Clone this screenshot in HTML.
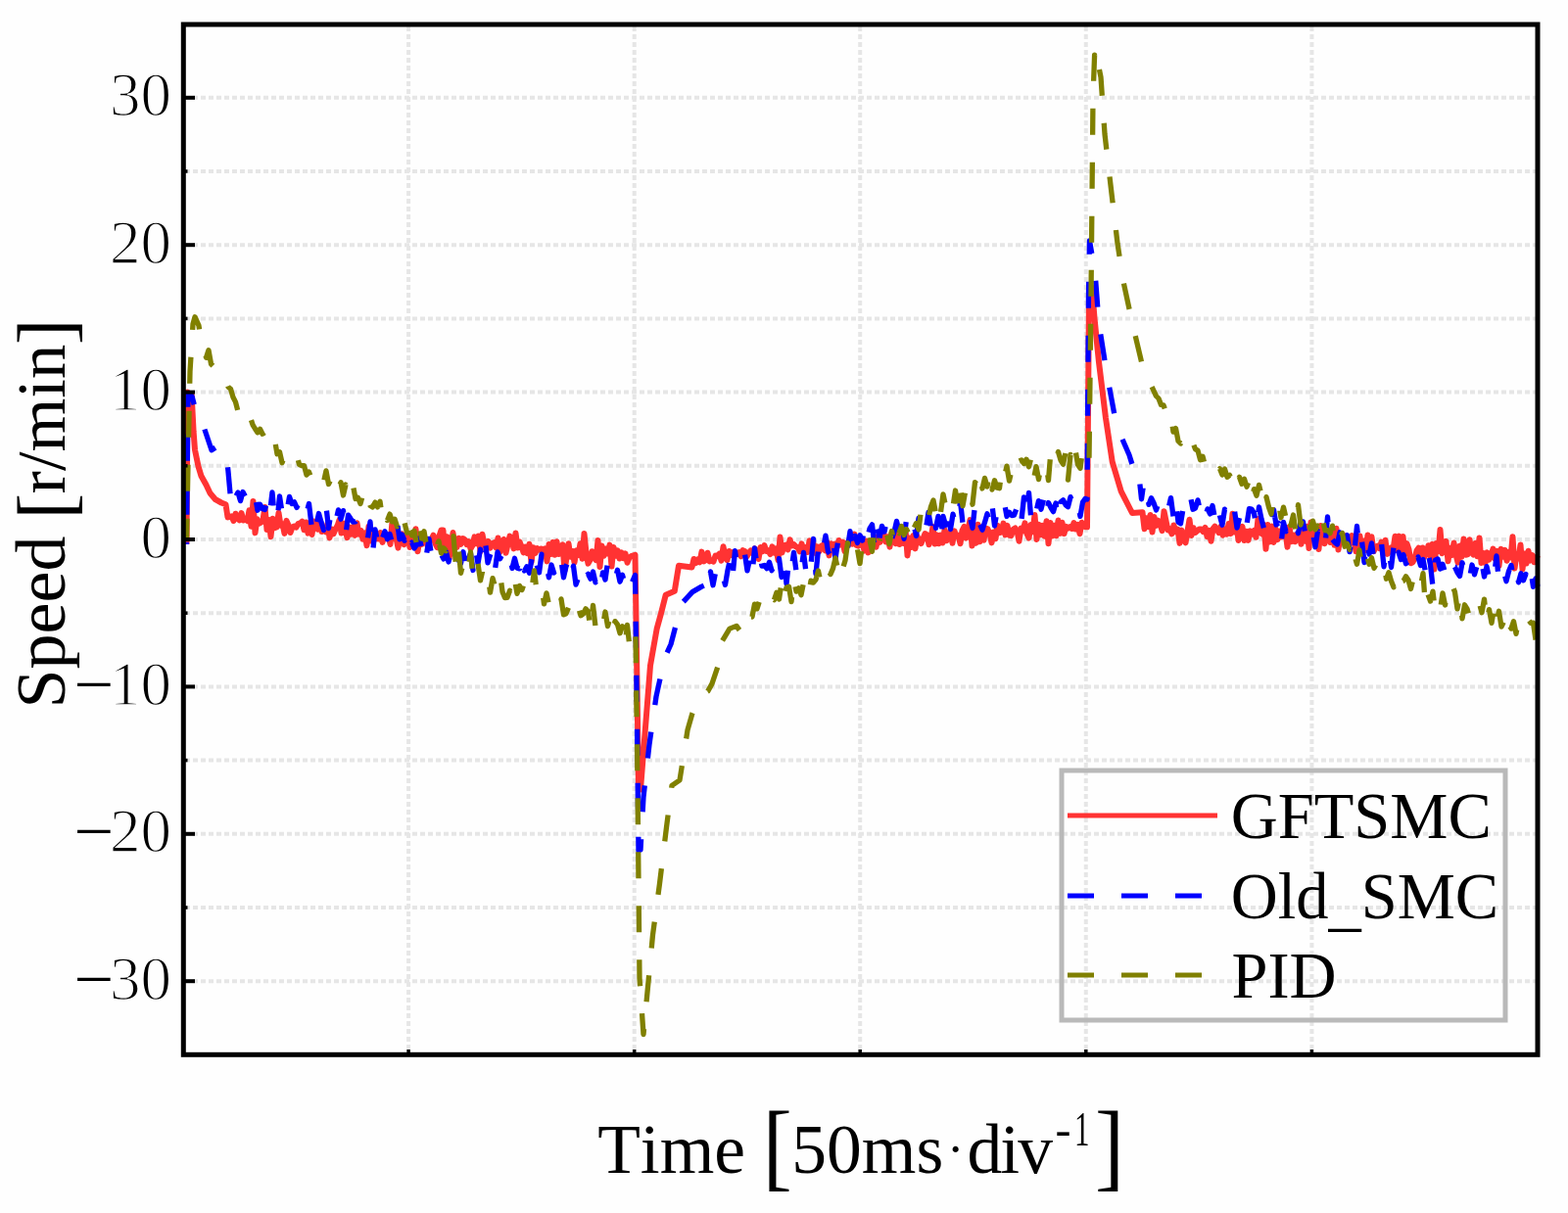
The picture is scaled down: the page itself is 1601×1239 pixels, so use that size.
<!DOCTYPE html>
<html><head><meta charset="utf-8"><title>Speed chart</title>
<style>html,body{margin:0;padding:0;background:#fefefe;}svg{display:block;filter:blur(0.7px);} text{font-kerning:none;font-feature-settings:"kern" 0;}</style>
</head><body>
<svg width="1601" height="1239" viewBox="0 0 1601 1239">
<rect x="0" y="0" width="1601" height="1239" fill="#fefefe"/>
<g stroke="#e6e6e6" stroke-width="4" stroke-dasharray="5 3" fill="none">
<line x1="189" y1="1002.2" x2="1568" y2="1002.2"/><line x1="189" y1="927.0" x2="1568" y2="927.0"/><line x1="189" y1="851.8" x2="1568" y2="851.8"/><line x1="189" y1="776.6" x2="1568" y2="776.6"/><line x1="189" y1="701.4" x2="1568" y2="701.4"/><line x1="189" y1="626.2" x2="1568" y2="626.2"/><line x1="189" y1="551.0" x2="1568" y2="551.0"/><line x1="189" y1="475.8" x2="1568" y2="475.8"/><line x1="189" y1="400.6" x2="1568" y2="400.6"/><line x1="189" y1="325.4" x2="1568" y2="325.4"/><line x1="189" y1="250.2" x2="1568" y2="250.2"/><line x1="189" y1="175.0" x2="1568" y2="175.0"/><line x1="189" y1="99.8" x2="1568" y2="99.8"/><line x1="417.1" y1="27" x2="417.1" y2="1075"/><line x1="647.7" y1="27" x2="647.7" y2="1075"/><line x1="878.2" y1="27" x2="878.2" y2="1075"/><line x1="1108.8" y1="27" x2="1108.8" y2="1075"/><line x1="1339.4" y1="27" x2="1339.4" y2="1075"/>
</g>
<g fill="none" stroke-linejoin="round" stroke-width="5.3">
<polyline stroke="#ff3333" stroke-width="6" points="190.5,555.8 191.5,400.5 195.7,403.8 197.6,440.8 199.0,459.5 202.5,476.3 205.5,486.3 210.5,495.3 214.5,503.8 220.0,510.2 226.0,513.5 230.5,515.2 232.5,528.4 236.5,527.3 238.5,532.0 240.5,524.7 242.5,529.4 244.5,531.4 246.5,524.1 248.5,531.5 250.5,529.9 252.5,532.1 254.5,521.3 256.5,537.7 258.5,511.9 260.5,544.3 262.5,530.2 264.5,534.7 266.5,533.6 268.5,531.0 270.5,518.0 272.5,541.0 274.5,530.9 276.5,548.2 278.5,529.7 280.5,539.2 282.5,538.5 284.5,523.8 286.5,536.8 288.5,535.2 290.5,544.9 292.5,531.9 294.5,536.5 296.5,544.0 298.5,538.4 300.5,537.4 302.5,538.5 304.5,534.9 306.5,534.5 308.5,532.6 310.5,541.3 312.5,533.5 314.5,544.6 316.5,536.1 318.5,546.0 320.5,532.5 322.5,533.8 324.5,540.6 326.5,531.9 328.5,543.0 330.5,540.7 332.5,543.2 334.5,534.6 336.5,549.4 338.5,540.5 340.5,545.3 342.5,540.6 344.5,537.1 346.5,531.1 348.5,544.6 350.5,534.5 352.5,541.2 354.5,549.2 356.5,538.5 358.5,545.8 360.5,538.0 362.5,546.9 364.5,534.3 366.5,545.7 368.5,542.0 370.5,550.8 372.5,544.3 374.5,557.3 376.5,537.7 378.5,552.5 380.5,541.8 382.5,551.3 384.5,547.0 386.5,550.4 388.5,544.2 390.5,553.9 392.5,546.2 394.5,548.9 396.5,546.6 398.5,556.0 400.5,533.1 402.5,550.1 404.5,549.6 406.5,559.6 408.5,547.5 410.5,545.5 412.5,556.2 414.5,549.4 416.5,545.7 418.5,559.0 420.5,547.9 422.5,556.8 424.5,540.2 426.5,563.2 428.5,550.2 430.5,555.9 432.5,550.2 434.5,550.0 436.5,557.4 438.5,551.3 440.5,551.5 442.5,546.7 444.5,555.1 446.5,559.2 448.5,547.4 450.5,541.5 452.5,541.6 454.5,569.6 456.5,548.2 458.5,570.4 460.5,559.7 462.5,544.1 464.5,557.0 466.5,558.9 468.5,549.7 470.5,555.9 472.5,550.0 474.5,551.1 476.5,556.1 478.5,553.1 480.5,560.5 482.5,557.0 484.5,548.4 486.5,555.3 488.5,547.6 490.5,563.3 492.5,545.7 494.5,556.5 496.5,556.7 498.5,553.0 500.5,559.7 502.5,555.4 504.5,554.2 506.5,559.4 508.5,549.5 510.5,563.7 512.5,553.9 514.5,550.9 516.5,564.8 518.5,556.0 520.5,547.6 522.5,550.9 524.5,560.4 526.5,544.4 528.5,559.5 530.5,553.4 532.5,558.2 534.5,564.4 536.5,558.5 538.5,565.2 540.5,555.7 542.5,574.3 544.5,559.2 546.5,565.0 548.5,560.1 550.5,561.6 552.5,560.5 554.5,561.6 556.5,560.3 558.5,573.4 560.5,556.0 562.5,566.0 564.5,553.9 566.5,566.7 568.5,553.2 570.5,566.0 572.5,561.6 574.5,556.3 576.5,583.1 578.5,569.2 580.5,555.2 582.5,568.8 584.5,562.8 586.5,574.4 588.5,562.4 590.5,566.9 592.5,555.2 594.5,570.7 596.5,545.1 598.5,564.4 600.5,575.6 602.5,572.1 604.5,563.3 606.5,568.4 608.5,572.1 610.5,552.0 612.5,579.0 614.5,557.6 616.5,567.7 618.5,560.5 620.5,565.5 622.5,556.6 624.5,578.6 626.5,558.9 628.5,567.8 630.5,562.4 632.5,570.5 634.5,564.4 636.5,570.2 638.5,565.4 640.5,574.7 642.5,569.7 644.5,568.2 648.5,566.8 650.5,700.0 652.0,805.8 654.0,806.5 664.0,679.8 670.7,642.1 675.0,626.4 679.7,607.7 688.8,603.8 693.0,577.7 706.5,579.4 708.5,571.0 710.5,575.1 712.5,571.4 714.5,574.3 716.5,563.6 718.5,573.4 720.5,572.2 722.5,564.7 724.5,573.4 726.5,572.4 728.5,573.5 730.5,567.6 732.5,568.0 734.5,565.7 736.5,572.7 738.5,558.3 740.5,568.3 742.5,572.2 744.5,563.0 746.5,567.1 748.5,564.1 750.5,566.8 752.5,565.1 754.5,564.2 756.5,568.3 758.5,562.2 760.5,563.0 762.5,568.4 764.5,564.9 766.5,562.5 768.5,565.1 770.5,560.3 772.5,566.4 774.5,570.9 776.5,559.0 778.5,563.3 780.5,557.2 782.5,562.9 784.5,562.3 786.5,566.1 788.5,558.3 790.5,564.6 792.5,560.5 794.5,572.1 796.5,548.6 798.5,564.5 800.5,557.4 802.5,556.5 804.5,561.5 806.5,551.2 808.5,557.5 810.5,556.1 812.5,558.3 814.5,559.1 816.5,563.3 818.5,555.4 820.5,562.8 822.5,559.2 824.5,564.0 826.5,552.3 828.5,561.2 830.5,554.7 832.5,565.0 834.5,558.3 836.5,563.2 838.5,557.7 840.5,556.7 842.5,562.3 844.5,553.9 846.5,567.4 848.5,555.3 850.5,560.1 852.5,555.6 854.5,558.9 856.5,552.0 858.5,556.4 860.5,553.7 862.5,563.1 864.5,554.8 866.5,556.3 868.5,548.9 870.5,555.6 872.5,545.6 874.5,556.9 876.5,557.6 878.5,550.9 880.5,553.7 882.5,562.6 884.5,552.5 886.5,564.4 888.5,562.4 890.5,553.1 892.5,548.0 894.5,558.8 896.5,549.7 898.5,553.9 900.5,544.9 902.5,545.8 904.5,553.4 906.5,548.4 908.5,558.6 910.5,544.0 912.5,551.8 914.5,555.1 916.5,542.4 918.5,556.1 920.5,551.4 922.5,554.9 924.5,540.3 926.5,567.4 928.5,549.5 930.5,559.0 932.5,547.1 934.5,560.4 936.5,547.6 938.5,552.5 940.5,555.2 942.5,550.2 944.5,545.0 946.5,546.5 948.5,556.3 950.5,550.0 952.5,538.0 954.5,555.5 956.5,546.4 958.5,555.3 960.5,546.6 962.5,554.5 964.5,541.1 966.5,552.3 968.5,544.7 970.5,543.2 972.5,554.8 974.5,542.4 976.5,547.7 978.5,546.9 980.5,555.3 982.5,541.8 984.5,538.0 986.5,549.6 988.5,540.9 990.5,531.1 992.5,557.5 994.5,541.8 996.5,554.7 998.5,535.7 1000.5,553.3 1002.5,541.1 1004.5,551.7 1006.5,539.7 1008.5,540.4 1010.5,544.8 1012.5,554.4 1014.5,543.5 1016.5,550.3 1018.5,536.8 1020.5,544.2 1022.5,543.4 1024.5,534.6 1026.5,546.4 1028.5,536.9 1030.5,546.7 1032.5,547.1 1034.5,540.8 1036.5,539.5 1038.5,542.5 1040.5,552.8 1042.5,539.4 1044.5,542.2 1046.5,534.3 1048.5,545.3 1050.5,549.6 1052.5,536.1 1054.5,543.2 1056.5,525.9 1058.5,550.9 1060.5,535.7 1062.5,546.2 1064.5,536.9 1066.5,547.7 1068.5,532.3 1070.5,555.3 1072.5,533.9 1074.5,547.5 1076.5,536.8 1078.5,547.3 1080.5,531.6 1082.5,544.9 1084.5,533.8 1086.5,545.1 1088.5,537.8 1090.5,539.6 1092.5,538.1 1094.5,539.9 1096.5,534.1 1098.5,540.5 1100.5,535.8 1102.5,545.2 1104.5,533.8 1108.0,538.2 1110.0,538.3 1112.0,300.9 1115.0,293.7 1117.6,326.0 1122.0,369.9 1129.0,427.1 1135.7,471.6 1144.7,501.9 1156.0,524.0 1166.5,523.2 1168.5,540.2 1170.5,529.2 1172.5,538.1 1174.5,526.0 1176.5,543.5 1178.5,528.1 1180.5,536.9 1182.5,531.7 1184.5,534.6 1186.5,542.1 1188.5,522.2 1190.5,531.9 1192.5,541.5 1194.5,540.4 1196.5,545.3 1198.5,536.5 1200.5,543.3 1202.5,540.6 1204.5,554.9 1206.5,541.6 1208.5,551.5 1210.5,554.4 1212.5,542.6 1214.5,530.7 1216.5,547.0 1218.5,539.1 1220.5,543.9 1222.5,542.2 1224.5,540.4 1226.5,540.6 1228.5,543.0 1230.5,539.0 1232.5,548.2 1234.5,541.9 1236.5,552.7 1238.5,540.2 1240.5,537.6 1242.5,540.9 1244.5,544.0 1246.5,537.9 1248.5,546.7 1250.5,540.3 1252.5,545.6 1254.5,535.1 1256.5,545.1 1258.5,524.7 1260.5,543.4 1262.5,535.9 1264.5,552.0 1266.5,544.2 1268.5,537.8 1270.5,552.0 1272.5,542.8 1274.5,551.9 1276.5,542.4 1278.5,545.7 1280.5,542.0 1282.5,548.8 1284.5,530.1 1286.5,543.5 1288.5,545.5 1290.5,535.9 1292.5,560.8 1294.5,536.0 1296.5,553.4 1298.5,537.6 1300.5,553.9 1302.5,540.1 1304.5,551.1 1306.5,542.5 1308.5,548.5 1310.5,537.7 1312.5,542.7 1314.5,558.8 1316.5,538.2 1318.5,553.2 1320.5,546.4 1322.5,553.3 1324.5,546.1 1326.5,542.8 1328.5,555.7 1330.5,541.8 1332.5,552.7 1334.5,537.8 1336.5,560.0 1338.5,533.5 1340.5,544.4 1342.5,549.7 1344.5,540.5 1346.5,560.9 1348.5,536.9 1350.5,542.0 1352.5,555.3 1354.5,547.6 1356.5,547.6 1358.5,554.0 1360.5,543.7 1362.5,556.7 1364.5,539.8 1366.5,561.6 1368.5,546.5 1370.5,553.9 1372.5,547.1 1374.5,547.5 1376.5,549.3 1378.5,555.4 1380.5,547.1 1382.5,552.0 1384.5,563.2 1386.5,556.7 1388.5,547.5 1390.5,564.2 1392.5,552.6 1394.5,562.1 1396.5,546.5 1398.5,563.9 1400.5,548.3 1402.5,563.3 1404.5,559.6 1406.5,557.8 1408.5,560.1 1410.5,553.5 1412.5,565.2 1414.5,551.8 1416.5,565.9 1418.5,563.3 1420.5,559.3 1422.5,561.3 1424.5,547.8 1426.5,561.8 1428.5,547.6 1430.5,563.8 1432.5,547.9 1434.5,566.0 1436.5,555.1 1438.5,561.1 1440.5,575.2 1442.5,574.2 1444.5,570.3 1446.5,562.5 1448.5,559.6 1450.5,566.6 1452.5,559.5 1454.5,568.7 1456.5,564.0 1458.5,557.2 1460.5,568.2 1462.5,555.9 1464.5,581.5 1466.5,555.0 1468.5,563.2 1470.5,541.1 1472.5,565.2 1474.5,560.5 1476.5,552.9 1478.5,573.3 1480.5,559.8 1482.5,567.0 1484.5,554.5 1486.5,566.0 1488.5,574.6 1490.5,557.6 1492.5,568.7 1494.5,550.6 1496.5,566.7 1498.5,566.3 1500.5,551.2 1502.5,564.5 1504.5,566.6 1506.5,554.7 1508.5,568.3 1510.5,549.6 1512.5,574.9 1514.5,565.0 1516.5,575.0 1518.5,564.4 1520.5,571.6 1522.5,567.3 1524.5,560.6 1526.5,570.8 1528.5,562.8 1530.5,578.1 1532.5,560.8 1534.5,568.6 1536.5,561.9 1538.5,572.8 1540.5,563.7 1542.5,569.5 1544.5,548.3 1546.5,580.5 1548.5,566.3 1550.5,570.4 1552.5,556.4 1554.5,581.6 1556.5,565.5 1558.5,575.5 1560.5,562.7 1562.5,572.6 1564.5,567.0 1566.5,574.3 1568.5,570.8 1570.0,567.2"/>
<polyline stroke="#0000ff" stroke-dasharray="27 28" stroke-dashoffset="24.9" points="190.5,555.9 192.0,402.3 196.0,404.8 202.0,427.5 207.0,432.9 216.0,459.7 223.0,455.2 232.0,472.5 233.0,481.6 235.5,509.2 238.0,497.9 240.5,507.7 243.0,503.1 245.5,511.6 248.0,502.5 250.5,507.1 253.0,504.0 255.5,505.2 258.0,512.5 260.5,506.5 263.0,521.2 265.5,515.2 268.0,519.7 270.5,520.6 273.0,510.2 275.5,523.9 278.0,502.9 280.5,530.9 283.0,531.9 285.5,506.9 288.0,523.2 290.5,514.5 293.0,522.2 295.5,507.4 298.0,514.4 300.5,512.9 303.0,518.4 305.5,512.8 308.0,513.0 310.5,526.7 313.0,524.0 315.5,514.5 318.0,536.0 320.5,523.9 323.0,536.1 325.5,524.5 328.0,533.4 330.5,541.4 333.0,517.3 335.5,539.7 338.0,523.3 340.5,520.3 343.0,531.6 345.5,520.9 348.0,530.2 350.5,521.6 353.0,546.4 355.5,526.1 358.0,529.8 360.5,533.1 363.0,532.9 365.5,529.3 368.0,534.9 370.5,535.4 373.0,543.8 375.5,549.7 378.0,532.9 380.5,565.4 383.0,540.8 385.5,552.3 388.0,539.3 390.5,549.5 393.0,542.7 395.5,550.7 398.0,545.4 400.5,554.6 403.0,539.6 405.5,533.9 408.0,550.9 410.5,546.1 413.0,552.3 415.5,546.0 418.0,558.9"/>
<polyline stroke="#0000ff" stroke-dasharray="27 28" stroke-dashoffset="50.0" points="418.0,558.9 420.5,554.0 423.0,560.0 425.5,556.5 428.0,549.8 430.5,559.1 433.0,550.3 435.5,566.2 438.0,550.3 440.5,567.1 443.0,564.4 445.5,558.1 448.0,567.1 450.5,566.2 453.0,570.9 455.5,563.5 458.0,574.0 460.5,562.7 463.0,557.1 465.5,566.8 468.0,571.8 470.5,575.5 473.0,563.8 475.5,587.0 478.0,570.9 480.5,565.1 483.0,582.5 485.5,560.5 488.0,575.6 490.5,561.1 493.0,570.9 495.5,553.4 498.0,574.9 500.5,566.9 503.0,560.7 505.5,581.4 508.0,563.9 510.5,570.8 513.0,565.7 515.5,572.4 518.0,574.1 520.5,568.2 523.0,580.5 525.5,570.3 528.0,580.2 530.5,580.9 533.0,567.6 535.5,583.0 538.0,578.7 540.5,585.2 543.0,570.5 545.5,586.8 548.0,576.9 550.5,584.8 553.0,566.2 555.5,582.5 558.0,578.7 560.5,589.8 563.0,577.0 565.5,585.0 568.0,580.9 570.5,586.8 573.0,572.7 575.5,589.8 578.0,578.4 580.5,572.6 583.0,588.1 585.5,578.1 588.0,597.2 590.5,590.4 593.0,580.9 595.5,591.7 598.0,588.6 600.5,586.4 603.0,591.2 605.5,584.0 608.0,594.9 610.5,589.8 613.0,601.1 615.5,584.8 618.0,592.1 620.5,574.5 623.0,584.5 625.5,588.1 628.0,591.5 630.5,582.3 633.0,594.2 635.5,587.3 638.0,596.2 640.5,586.1 643.0,585.6 645.5,594.6 648.5,587.4 650.0,700.3 652.0,868.8 654.0,868.1 657.0,814.2 663.0,760.3 670.0,711.5 678.6,672.3 685.0,658.0 690.0,638.9 695.5,617.1 707.0,604.6 716.0,599.4 720.5,597.4 723.0,604.1 725.5,584.0 728.0,597.7 730.5,585.0 733.0,589.2 735.5,580.8 738.0,588.7 740.5,597.4 743.0,582.5 745.5,571.2 748.0,589.0 750.5,562.6 753.0,579.1 755.5,569.5 758.0,565.5 760.5,566.0 763.0,582.9 765.5,571.3 768.0,587.0 770.5,559.9 773.0,577.7 775.5,566.5 778.0,578.1 780.5,577.5 783.0,580.7 785.5,574.3 788.0,582.7 790.5,577.6 793.0,587.0 795.5,570.5 798.0,589.5 800.5,569.4 803.0,596.3 805.5,573.4 808.0,582.4 810.5,564.3 813.0,583.3 815.5,574.1 818.0,582.6 820.5,564.3 823.0,584.6 825.5,570.3 828.0,576.7 830.5,550.4 833.0,586.2 835.5,561.5 838.0,570.6 840.5,560.8 843.0,547.1 845.5,563.5 848.0,566.9 850.5,550.1 853.0,570.5 855.5,553.6 858.0,555.8 860.5,556.5 863.0,547.9 865.5,559.5 868.0,542.7 870.5,564.2 873.0,547.3 875.5,554.4 878.0,546.7 880.5,552.1 883.0,537.9 885.5,549.8 888.0,540.0 890.5,535.9 893.0,558.6 895.5,537.8 898.0,549.4"/>
<polyline stroke="#0000ff" stroke-dasharray="27 28" stroke-dashoffset="3.2" points="898.0,549.4 900.5,537.4 903.0,543.1 905.5,531.3 908.0,538.3 910.5,550.8 913.0,543.3 915.5,532.4 918.0,543.1 920.5,529.0 923.0,550.3 925.5,530.7 928.0,542.6 930.5,539.2 933.0,535.9 935.5,547.4 938.0,529.3 940.5,536.9 943.0,529.3 945.5,539.7 948.0,523.5 950.5,538.2 953.0,523.7 955.5,539.4 958.0,527.4 960.5,553.4 963.0,527.5 965.5,536.4 968.0,518.2 970.5,540.5 973.0,525.1 975.5,535.8 978.0,534.1 980.5,511.9 983.0,534.4 985.5,522.6 988.0,531.6 990.5,528.8 993.0,539.3 995.5,516.0 998.0,535.9 1000.5,535.6 1003.0,541.3 1005.5,533.4 1008.0,524.7 1010.5,534.2 1013.0,515.9 1015.5,537.0 1018.0,522.4 1020.5,526.2 1023.0,517.9 1025.5,513.9 1028.0,527.4 1030.5,523.2 1033.0,526.5 1035.5,526.2 1038.0,519.3 1040.5,512.6 1043.0,531.0 1045.5,507.9 1048.0,523.9 1050.5,503.3 1053.0,532.4 1055.5,518.4 1058.0,522.3 1060.5,511.6 1063.0,520.2 1065.5,510.2 1068.0,527.2 1070.5,513.5 1073.0,518.5 1075.5,522.6 1078.0,514.0 1080.5,530.4 1083.0,512.7 1085.5,510.7 1088.0,515.6 1090.5,517.7 1093.0,507.6 1095.5,514.4 1098.0,520.7 1100.5,514.4 1103.0,527.4 1105.5,513.1 1108.0,509.4 1110.0,510.0 1111.5,299.3 1112.5,246.0 1118.0,277.4 1122.0,330.3 1130.0,381.0 1140.0,434.8 1153.0,464.8 1160.5,488.9 1163.0,486.0 1165.5,509.8 1168.0,492.1 1170.5,496.4 1173.0,515.4 1175.5,508.7 1178.0,513.7 1180.5,520.9 1183.0,513.3 1185.5,510.5 1188.0,516.7 1190.5,513.3 1193.0,519.4 1195.5,508.7 1198.0,527.6 1200.5,511.1 1203.0,533.2 1205.5,534.8 1208.0,519.7 1210.5,519.0 1213.0,522.6 1215.5,507.2 1218.0,520.2 1220.5,519.1 1223.0,510.9 1225.5,521.3 1228.0,516.8 1230.5,528.4 1233.0,519.9 1235.5,524.9 1238.0,516.5 1240.5,529.5 1243.0,516.0 1245.5,526.9 1248.0,536.2 1250.5,520.2 1253.0,526.0 1255.5,526.9 1258.0,533.0 1260.5,521.4 1263.0,539.1 1265.5,529.1 1268.0,520.1 1270.5,523.5 1273.0,535.8 1275.5,519.6 1278.0,520.1 1280.5,524.1 1283.0,540.1 1285.5,518.0 1288.0,530.2 1290.5,539.8 1293.0,536.1 1295.5,533.4 1298.0,540.3 1300.5,520.6 1303.0,536.0 1305.5,534.2 1308.0,556.3 1310.5,533.5 1313.0,542.9 1315.5,535.4 1318.0,540.3 1320.5,538.1 1323.0,534.8 1325.5,544.7 1328.0,532.8 1330.5,532.9 1333.0,546.5 1335.5,544.3 1338.0,551.9 1340.5,544.2 1343.0,558.7 1345.5,542.4 1348.0,549.4 1350.5,547.4 1353.0,557.1 1355.5,527.9 1358.0,555.7 1360.5,551.0 1363.0,554.2 1365.5,556.0 1368.0,543.8 1370.5,550.5 1373.0,564.6 1375.5,546.6 1378.0,563.7 1380.5,548.8 1383.0,562.2 1385.5,537.5 1388.0,561.6 1390.5,552.4 1393.0,574.5 1395.5,551.2 1398.0,566.0 1400.5,554.9 1403.0,572.3 1405.5,569.0 1408.0,566.1 1410.5,554.4 1413.0,578.8 1415.5,562.6 1418.0,560.3 1420.5,579.5 1423.0,559.1 1425.5,575.9 1428.0,564.2 1430.5,571.6 1433.0,566.6 1435.5,575.7 1438.0,573.7 1440.5,573.8 1443.0,569.7 1445.5,579.3 1448.0,568.9 1450.5,577.6 1453.0,571.5 1455.5,584.2 1458.0,564.2 1460.5,576.8 1463.0,599.5 1465.5,572.2 1468.0,571.0 1470.5,581.1 1473.0,576.3 1475.5,584.8 1478.0,572.9 1480.5,580.0 1483.0,578.4 1485.5,579.1 1488.0,584.8 1490.5,588.4 1493.0,574.8 1495.5,583.4 1498.0,579.2 1500.5,590.6 1503.0,577.0 1505.5,586.9 1508.0,578.1 1510.5,586.3 1513.0,574.7 1515.5,589.0 1518.0,578.7 1520.5,590.8 1523.0,583.7 1525.5,589.2 1528.0,567.9 1530.5,594.7 1533.0,585.3 1535.5,584.2 1538.0,593.7 1540.5,583.5 1543.0,577.5 1545.5,591.6 1548.0,583.2 1550.5,594.8 1553.0,585.7 1555.5,592.8 1558.0,586.4 1560.5,594.8 1563.0,583.1 1565.5,599.3 1568.0,591.0 1570.0,599.1"/>
<polyline stroke="#808000" stroke-dasharray="27 28" stroke-dashoffset="3.8" points="190.5,552.9 192.0,473.8 194.0,379.4 197.0,330.9 199.0,323.7 203.0,332.7 205.5,349.0 208.0,353.1 210.5,365.3 213.0,357.7 215.5,371.8 218.0,374.3 220.5,378.7 223.0,384.4 225.5,387.0 228.0,386.5 230.5,387.9 233.0,395.2 235.5,397.2 238.0,405.8 240.5,410.6 243.0,420.3 245.5,417.6 248.0,423.6 250.5,424.8 253.0,429.9 255.5,426.0 258.0,433.8 260.5,438.0 263.0,441.8 265.5,438.2 268.0,443.2 270.5,441.5 273.0,448.1 275.5,449.8 278.0,455.5 280.5,449.3 283.0,463.7 285.5,461.7 288.0,472.7 290.5,466.3 293.0,468.2 295.5,466.6 298.0,461.4 300.5,463.6 303.0,464.4 305.5,474.4 308.0,475.6 310.5,475.6 313.0,485.1 315.5,482.1 318.0,488.5 320.5,483.7 323.0,485.3 325.5,490.3 328.0,487.7 330.5,492.2 333.0,480.9 335.5,494.5 338.0,489.7 340.5,498.8 343.0,492.9 345.5,498.6 348.0,492.8 350.5,506.0 353.0,495.0 355.5,503.4 358.0,507.6 360.5,496.0 363.0,509.5 365.5,508.3 368.0,514.6 370.5,505.3 373.0,517.0 375.5,510.5 378.0,516.4 380.5,517.9 383.0,513.1 385.5,517.9 388.0,512.2 390.5,529.5 393.0,522.4 395.5,531.5 398.0,525.1 400.5,532.9 403.0,530.2 405.5,537.8 408.0,532.6 410.5,543.6 413.0,533.6 415.5,544.1 418.0,542.2"/>
<polyline stroke="#808000" stroke-dasharray="27 28" stroke-dashoffset="5.0" points="418.0,542.2 420.5,546.8 423.0,542.4 425.5,556.4 428.0,536.7 430.5,550.1 433.0,542.7 435.5,557.7 438.0,552.1 440.5,557.0 443.0,553.9 445.5,558.9 448.0,552.7 450.5,565.1 453.0,559.8 455.5,562.8 458.0,559.4 460.5,565.9 463.0,547.7 465.5,577.3 468.0,558.3 470.5,585.3 473.0,575.6 475.5,571.2 478.0,581.4 480.5,563.9 483.0,590.3 485.5,591.2 488.0,575.8 490.5,592.9 493.0,581.7 495.5,588.8 498.0,585.1 500.5,605.2 503.0,590.6 505.5,599.2 508.0,594.5 510.5,585.1 513.0,604.4 515.5,610.6 518.0,610.4 520.5,603.3 523.0,609.7 525.5,592.3 528.0,606.3 530.5,598.4 533.0,602.5 535.5,594.7 538.0,592.0 540.5,602.9 543.0,601.6 545.5,582.8 548.0,603.6 550.5,599.8 553.0,597.3 555.5,616.8 558.0,605.9 560.5,617.7 563.0,613.8 565.5,618.4 568.0,617.4 570.5,621.4 573.0,611.9 575.5,627.9 578.0,626.8 580.5,620.5 583.0,622.7 585.5,620.3 588.0,628.3 590.5,620.0 593.0,628.8 595.5,627.1 598.0,621.8 600.5,624.8 603.0,643.0 605.5,618.3 608.0,639.9 610.5,630.2 613.0,632.3 615.5,638.8 618.0,625.0 620.5,639.6 623.0,630.9 625.5,645.6 628.0,634.6 630.5,637.9 633.0,646.8 635.5,639.7 638.0,659.9 640.5,638.5 643.0,661.8 645.5,647.3 647.0,648.6 649.0,647.7 651.0,801.1 653.0,999.1 657.0,1056.6 660.0,1024.0 663.0,992.4 666.5,955.0 673.5,902.6 680.5,845.0 686.0,802.4 694.0,796.9 698.0,771.8 702.0,745.8 706.8,729.1 713.6,711.9 722.7,706.1 727.0,698.4 734.0,677.6 736.0,657.2 745.0,642.1 752.0,639.4 758.8,648.9 764.5,639.6 765.5,630.4 768.0,630.1 770.5,617.1 773.0,621.8 775.5,613.7 778.0,620.2 780.5,612.0 783.0,612.9 785.5,612.7 788.0,610.8 790.5,612.7 793.0,605.2 795.5,612.0 798.0,595.3 800.5,610.8 803.0,600.0 805.5,599.2 808.0,614.6 810.5,590.7 813.0,604.1 815.5,600.8 818.0,607.7 820.5,595.3 823.0,600.9 825.5,608.7 828.0,593.1 830.5,594.9 833.0,592.0 835.5,583.0 838.0,594.8 840.5,594.5 843.0,596.2 845.5,582.4 848.0,586.5 850.5,580.6 853.0,570.0 855.5,581.4 858.0,570.5 860.5,580.8 863.0,572.6 865.5,554.6 868.0,569.6 870.5,565.1 873.0,567.3 875.5,561.1 878.0,575.6 880.5,555.0 883.0,563.0 885.5,555.8 888.0,551.7 890.5,563.3 893.0,541.8 895.5,554.1 898.0,552.1"/>
<polyline stroke="#808000" stroke-dasharray="27 28" stroke-dashoffset="25.1" points="898.0,552.1 900.5,544.9 903.0,555.7 905.5,545.7 908.0,555.6 910.5,542.5 913.0,555.2 915.5,540.6 918.0,544.7 920.5,537.6 923.0,546.5 925.5,540.6 928.0,545.3 930.5,530.1 933.0,539.7 935.5,534.5 938.0,540.9 940.5,521.3 943.0,533.9 945.5,529.6 948.0,529.1 950.5,517.4 953.0,511.0 955.5,524.3 958.0,511.2 960.5,523.1 963.0,504.9 965.5,516.9 968.0,514.8 970.5,507.4 973.0,517.5 975.5,501.0 978.0,517.4 980.5,498.0 983.0,516.8 985.5,503.0 988.0,510.2 990.5,502.1 993.0,515.2 995.5,492.6 998.0,495.0 1000.5,482.7 1003.0,499.0 1005.5,488.4 1008.0,497.0 1010.5,482.0 1013.0,500.1 1015.5,490.7 1018.0,498.2 1020.5,498.7 1023.0,478.8 1025.5,487.0 1028.0,476.2 1030.5,491.1 1033.0,480.0 1035.5,472.2 1038.0,478.5 1040.5,471.1 1043.0,470.0 1045.5,473.5 1048.0,469.2 1050.5,476.7 1053.0,467.2 1055.5,489.1 1058.0,476.6 1060.5,489.6 1063.0,474.8 1065.5,473.1 1068.0,473.3 1070.5,490.6 1073.0,460.0 1075.5,458.3 1078.0,468.4 1080.5,461.6 1083.0,470.1 1085.5,474.2 1088.0,462.2 1090.5,490.2 1093.0,464.4 1095.5,474.3 1098.0,459.6 1100.5,474.5 1103.0,478.3 1105.5,459.2 1108.0,471.6 1112.0,469.7 1114.0,302.2 1116.0,100.2 1117.6,56.1 1119.3,67.8 1120.5,61.3 1124.0,78.8 1128.0,136.9 1134.0,189.1 1141.0,248.5 1147.0,287.5 1156.0,329.4 1167.0,375.9 1180.5,404.5 1183.0,407.0 1185.5,413.5 1188.0,413.9 1190.5,420.7 1193.0,428.3 1195.5,424.1 1198.0,441.1 1200.5,437.6 1203.0,450.4 1205.5,453.0 1208.0,447.1 1210.5,450.1 1213.0,453.6 1215.5,458.0 1218.0,452.3 1220.5,458.8 1223.0,460.1 1225.5,469.7 1228.0,466.2 1230.5,475.7 1233.0,480.6 1235.5,478.8 1238.0,482.0 1240.5,484.6 1243.0,483.0 1245.5,478.8 1248.0,485.0 1250.5,479.0 1253.0,487.3 1255.5,485.4 1258.0,492.6 1260.5,484.6 1263.0,492.9 1265.5,487.3 1268.0,494.3 1270.5,489.2 1273.0,497.2 1275.5,490.0 1278.0,508.2 1280.5,499.6 1283.0,506.2 1285.5,495.4 1288.0,505.7 1290.5,519.0 1293.0,507.7 1295.5,518.0 1298.0,525.0 1300.5,506.4 1303.0,510.9 1305.5,513.7 1308.0,528.7 1310.5,518.2 1313.0,528.8 1315.5,519.3 1318.0,536.7 1320.5,526.0 1323.0,543.2 1325.5,515.7 1328.0,536.0 1330.5,525.2 1333.0,535.5 1335.5,530.9 1338.0,540.3 1340.5,532.1 1343.0,540.9 1345.5,537.1 1348.0,546.3 1350.5,531.2 1353.0,541.9 1355.5,541.6 1358.0,544.6 1360.5,537.1 1363.0,553.7 1365.5,557.6 1368.0,549.3 1370.5,544.4 1373.0,558.2 1375.5,555.4 1378.0,561.3 1380.5,552.4 1383.0,567.4 1385.5,576.2 1388.0,561.9 1390.5,578.7 1393.0,578.5 1395.5,567.0 1398.0,576.3 1400.5,569.8 1403.0,580.3 1405.5,575.7 1408.0,581.1 1410.5,582.8 1413.0,577.0 1415.5,591.2 1418.0,584.7 1420.5,593.4 1423.0,599.7 1425.5,586.1 1428.0,584.5 1430.5,594.2 1433.0,593.3 1435.5,588.8 1438.0,592.5 1440.5,601.5 1443.0,591.0 1445.5,601.4 1448.0,596.4 1450.5,598.2 1453.0,585.7 1455.5,619.8 1458.0,607.1 1460.5,614.1 1463.0,604.1 1465.5,625.6 1468.0,619.8 1470.5,623.1 1473.0,605.8 1475.5,618.0 1478.0,601.2 1480.5,604.2 1483.0,598.3 1485.5,604.8 1488.0,621.9 1490.5,608.5 1493.0,631.9 1495.5,617.8 1498.0,621.8 1500.5,630.5 1503.0,624.1 1505.5,621.2 1508.0,623.0 1510.5,616.2 1513.0,625.8 1515.5,612.1 1518.0,635.6 1520.5,622.6 1523.0,636.3 1525.5,620.9 1528.0,636.5 1530.5,624.3 1533.0,640.2 1535.5,635.0 1538.0,648.2 1540.5,637.5 1543.0,642.1 1545.5,634.7 1548.0,647.3 1550.5,632.9 1553.0,634.6 1555.5,629.1 1558.0,629.4 1560.5,633.2 1563.0,636.3 1565.5,636.2 1568.0,653.5"/>
</g>
<g stroke="#000" stroke-width="4"><line x1="186" y1="1002.2" x2="199" y2="1002.2"/><line x1="186" y1="851.8" x2="199" y2="851.8"/><line x1="186" y1="701.4" x2="199" y2="701.4"/><line x1="186" y1="551.0" x2="199" y2="551.0"/><line x1="186" y1="400.6" x2="199" y2="400.6"/><line x1="186" y1="250.2" x2="199" y2="250.2"/><line x1="186" y1="99.8" x2="199" y2="99.8"/></g>
<g stroke="#000" stroke-width="3.5"><line x1="186" y1="927.0" x2="191.5" y2="927.0"/><line x1="186" y1="776.6" x2="191.5" y2="776.6"/><line x1="186" y1="626.2" x2="191.5" y2="626.2"/><line x1="186" y1="475.8" x2="191.5" y2="475.8"/><line x1="186" y1="325.4" x2="191.5" y2="325.4"/><line x1="186" y1="175.0" x2="191.5" y2="175.0"/><line x1="417.1" y1="1078" x2="417.1" y2="1072"/><line x1="647.7" y1="1078" x2="647.7" y2="1072"/><line x1="878.2" y1="1078" x2="878.2" y2="1072"/><line x1="1108.8" y1="1078" x2="1108.8" y2="1072"/><line x1="1339.4" y1="1078" x2="1339.4" y2="1072"/></g>
<rect x="187.3" y="25" width="1382.7" height="1052.3" fill="none" stroke="#000" stroke-width="5"/>
<g font-family="'Liberation Serif', 'Times New Roman', serif" font-size="63" text-anchor="end" fill="#000" stroke="#fefefe" stroke-width="1.4">
<text x="175" y="1020.7">30</text><text stroke="none" text-anchor="start" transform="translate(75.4,1020.7) scale(1.147,1)">−</text><text x="175" y="870.3">20</text><text stroke="none" text-anchor="start" transform="translate(75.4,870.3) scale(1.147,1)">−</text><text x="175" y="719.9">10</text><text stroke="none" text-anchor="start" transform="translate(75.4,719.9) scale(1.147,1)">−</text><text x="175" y="569.5">0</text><text x="175" y="419.1">10</text><text x="175" y="268.7">20</text><text x="175" y="118.3">30</text>
</g>
<text transform="translate(65.7,723.5) rotate(-90)" font-family="'Liberation Serif', 'Times New Roman', serif" font-size="72" fill="#000">Speed <tspan font-size="80" dy="7.4" dx="-1">[</tspan><tspan dy="-7.4" dx="-0.7" font-size="70.5">r/min</tspan><tspan font-size="80" dy="7.4" dx="-0.5">]</tspan></text>
<g font-family="'Liberation Serif', 'Times New Roman', serif" fill="#000">
<text x="610.2" y="1197.5" font-size="71.5">Time</text>
<text transform="translate(778.8,1204.1) scale(0.9,1)" font-size="100">[</text>
<text x="808.35" y="1197.5" font-size="71.5">50ms</text>
<text x="966.9" y="1190.9" font-size="52">&#183;</text>
<text x="987.4" y="1197.5" font-size="71.5" textLength="87.6" lengthAdjust="spacing">div</text>
<text x="1077.6" y="1170" font-size="48">-</text>
<text transform="translate(1097,1170) scale(0.62,1)" font-size="50">1</text>
<text transform="translate(1118,1204.1) scale(0.9,1)" font-size="100">]</text>
</g>

<rect x="1084" y="787" width="453" height="255" fill="none" stroke="#b9b9b9" stroke-width="5"/>
<g stroke-width="5.2" fill="none">
<line x1="1090" y1="833" x2="1243" y2="833" stroke="#ff3333"/>
<line x1="1090" y1="915" x2="1227" y2="915" stroke="#0000ff" stroke-dasharray="27 28"/>
<line x1="1090" y1="996" x2="1227" y2="996" stroke="#808000" stroke-dasharray="27 28"/>
</g>
<g font-family="'Liberation Serif', 'Times New Roman', serif" font-size="66.5" fill="#000">
<text transform="translate(1256.7,856) scale(1,1.03)">GFTSMC</text>
<text transform="translate(1256.7,937.7) scale(1,1.03)">Old<tspan dy="5">_</tspan><tspan dy="-5">SMC</tspan></text>
<text transform="translate(1257.5,1018.5) scale(1,1.03)">PID</text>
</g>

</svg>
</body></html>
